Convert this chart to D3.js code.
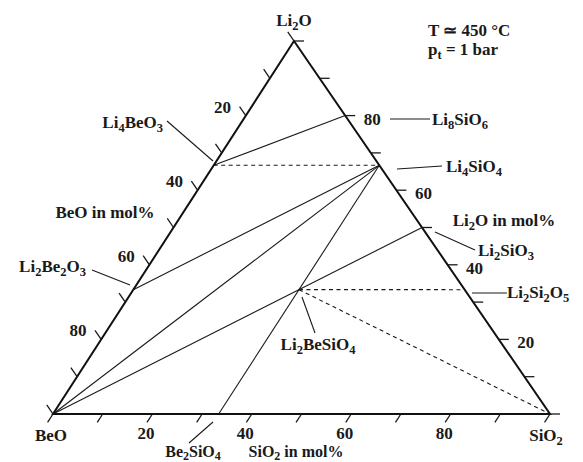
<!DOCTYPE html>
<html>
<head>
<meta charset="utf-8">
<script src="https://cdn.jsdelivr.net/npm/d3@7"></script>
<style>
  body { margin: 0; background: #fff; }
  svg text { font-family: "Liberation Serif", "Times New Roman", serif; font-weight: bold; fill: #1a1a1a; }
</style>
</head>
<body>
<svg id="chart" width="583" height="462"></svg>
<script>
// compositions in mol% (Li2O, BeO, SiO2)
const phases = ["Li2O", "BeO", "SiO2", "Li8SiO6", "Li4SiO4", "Li2SiO3", "Li2Si2O5",
                "Li4BeO3", "Li2Be2O3", "Li2BeSiO4", "Be2SiO4"];
const li2o = [100, 0, 0, 80, 66.67, 50, 33.33, 66.67, 33.33, 33.33, 0];
const beo  = [0, 100, 0, 0, 0, 0, 0, 33.33, 66.67, 33.33, 66.67];
const sio2 = [0, 0, 100, 20, 33.33, 50, 66.67, 0, 0, 33.33, 33.33];

// tie lines between phases
const tieFrom   = ["Li4BeO3", "Li4BeO3", "Li2Be2O3", "BeO", "Be2SiO4", "BeO", "Li2BeSiO4", "Li2BeSiO4"];
const tieTo     = ["Li8SiO6", "Li4SiO4", "Li4SiO4", "Li4SiO4", "Li4SiO4", "Li2SiO3", "Li2Si2O5", "SiO2"];
const tieDashed = [false, true, false, false, false, false, true, true];

const tickValues = d3.range(0, 101, 10);
const tickLabels = [20, 40, 60, 80];

// ---- layout ----
const svg = d3.select("#chart");
const apex = [294, 41], left = [53, 414], right = [550, 414];
const FS = 17, SUB = 12.5, DROP = 3.5;

// barycentric -> pixel, through linear scales on each component
const wLi = d3.scaleLinear().domain([0, 100]).range([0, 1]);
const wBe = d3.scaleLinear().domain([0, 100]).range([0, 1]);
const wSi = d3.scaleLinear().domain([0, 100]).range([0, 1]);
function project(l, b, s) {
    const a = wLi(l), c = wBe(b), e = wSi(s);
    return [apex[0] * a + left[0] * c + right[0] * e,
            apex[1] * a + left[1] * c + right[1] * e];
}
const pos = {};
phases.forEach((p, i) => { pos[p] = project(li2o[i], beo[i], sio2[i]); });

function unit(v) { const n = Math.hypot(v[0], v[1]); return [v[0] / n, v[1] / n]; }

// formula text: digits become subscripts
function chem(sel, str, fs, sub, drop) {
    fs = fs || FS; sub = sub || SUB; drop = drop || DROP;
    const parts = str.match(/\d+|\D+/g);
    let inSub = false;
    parts.forEach(p => {
        const t = sel.append("tspan").text(p);
        if (/^\d/.test(p)) {
            t.attr("font-size", sub).attr("dy", inSub ? 0 : drop);
            inSub = true;
        } else {
            t.attr("font-size", fs);
            if (inSub) t.attr("dy", -drop);
            inSub = false;
        }
    });
}

// tie lines
const ties = tieFrom.map((f, i) => ({ a: pos[f], b: pos[tieTo[i]], dashed: tieDashed[i] }));
svg.append("g").selectAll("line").data(ties).join("line")
    .attr("x1", d => d.a[0]).attr("y1", d => d.a[1])
    .attr("x2", d => d.b[0]).attr("y2", d => d.b[1])
    .attr("stroke", "#1a1a1a")
    .attr("stroke-width", 1.1)
    .attr("stroke-dasharray", d => d.dashed ? "4,3.5" : null);

// triangle
svg.append("path")
    .attr("d", d3.line()([apex, left, right]) + "Z")
    .attr("fill", "none").attr("stroke", "#111").attr("stroke-width", 2)
    .attr("stroke-linejoin", "miter");

// axes: ticks on each side, each parallel to the next side, pointing out
const sides = [
    { // BeO on left side, 0 at apex
        at: v => project(100 - v, v, 0),
        dir: unit([apex[0] - right[0], apex[1] - right[1]]), len: 11,
        lab: (p, d, l) => [p[0] + d[0] * l - 17, p[1] + d[1] * l + 6]
    },
    { // SiO2 on bottom, 0 at BeO
        at: v => project(0, 100 - v, v),
        dir: unit([left[0] - apex[0], left[1] - apex[1]]), len: 10,
        lab: (p, d, l) => [p[0] + d[0] * l - 1, p[1] + d[1] * l + 17]
    },
    { // Li2O on right side, 0 at SiO2
        at: v => project(v, 0, 100 - v),
        dir: [1, 0], len: 10,
        lab: (p, d, l) => [p[0] + d[0] * l + 17, p[1] + 9]
    }
];
sides.forEach(s => {
    const g = svg.append("g");
    g.selectAll("line").data(tickValues).join("line")
        .attr("x1", v => s.at(v)[0]).attr("y1", v => s.at(v)[1])
        .attr("x2", v => s.at(v)[0] + s.dir[0] * s.len)
        .attr("y2", v => s.at(v)[1] + s.dir[1] * s.len)
        .attr("stroke", "#1a1a1a").attr("stroke-width", 1.3);
    g.selectAll("text").data(tickLabels).join("text")
        .attr("x", v => s.lab(s.at(v), s.dir, s.len)[0])
        .attr("y", v => s.lab(s.at(v), s.dir, s.len)[1])
        .attr("text-anchor", "middle").attr("font-size", FS)
        .text(v => v);
});

// corner labels
const corners = [
    { name: "Li2O", x: 294, y: 26 },
    { name: "BeO", x: 51, y: 441 },
    { name: "SiO2", x: 546, y: 441 }
];
corners.forEach(c => {
    const t = svg.append("text").attr("x", c.x).attr("y", c.y)
        .attr("text-anchor", "middle");
    chem(t, c.name);
});

// phase labels with leader lines
const labels = [
    { name: "Li4BeO3",   tx: 163, ty: 128, anchor: "end",   l: [[167, 121], [213, 161]] },
    { name: "Li8SiO6",   tx: 432, ty: 125, anchor: "start", l: [[390, 119], [430, 119]] },
    { name: "Li4SiO4",   tx: 446, ty: 172, anchor: "start", l: [[397, 169], [442, 166]] },
    { name: "Li2SiO3",   tx: 478, ty: 256, anchor: "start", l: [[435, 232], [475, 250]] },
    { name: "Li2Si2O5",  tx: 507, ty: 298, anchor: "start", l: [[472, 293], [507, 293]] },
    { name: "Li2Be2O3",  tx: 86,  ty: 272, anchor: "end",   l: [[92, 270], [130, 285]] },
    { name: "Li2BeSiO4", tx: 318, ty: 350, anchor: "middle", l: [[302, 297], [315, 333]] }
];
const lg = svg.append("g");
labels.forEach(d => {
    lg.append("line")
        .attr("x1", d.l[0][0]).attr("y1", d.l[0][1])
        .attr("x2", d.l[1][0]).attr("y2", d.l[1][1])
        .attr("stroke", "#1a1a1a").attr("stroke-width", 1.1);
    const t = lg.append("text").attr("x", d.tx).attr("y", d.ty)
        .attr("text-anchor", d.anchor);
    chem(t, d.name);
});

// bottom row: Be2SiO4 label and SiO2 axis title, slightly smaller to fit
lg.append("line")
    .attr("x1", 213).attr("y1", 422).attr("x2", 189).attr("y2", 443)
    .attr("stroke", "#1a1a1a").attr("stroke-width", 1.1);
chem(svg.append("text").attr("x", 193).attr("y", 457).attr("text-anchor", "middle"),
     "Be2SiO4", 16, 12, 3);
chem(svg.append("text").attr("x", 296).attr("y", 457).attr("text-anchor", "middle"),
     "SiO2 in mol%", 16, 12, 3);

// axis titles
const titles = [
    { s: "BeO in mol%", x: 105, y: 218 },
    { s: "Li2O in mol%", x: 504, y: 226 }
];
titles.forEach(d => {
    const t = svg.append("text").attr("x", d.x).attr("y", d.y).attr("text-anchor", "middle");
    chem(t, d.s);
});

// conditions
svg.append("text").attr("x", 428).attr("y", 36).attr("font-size", FS).text("T \u2243 450 \u00B0C");
const pt = svg.append("text").attr("x", 428).attr("y", 55).attr("font-size", FS);
pt.append("tspan").text("p");
pt.append("tspan").attr("font-size", SUB).attr("dy", DROP).text("t");
pt.append("tspan").attr("dy", -DROP).text(" = 1 bar");
</script>
</body>
</html>
